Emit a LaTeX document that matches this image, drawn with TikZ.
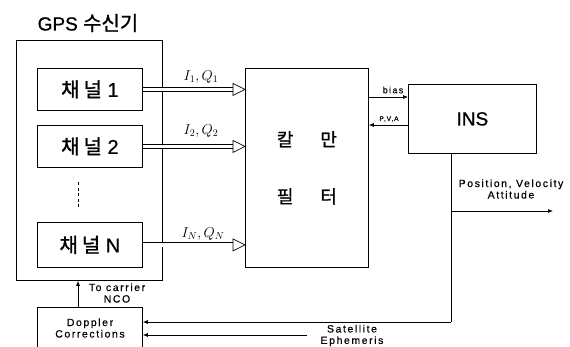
\documentclass[tikz,border=0pt]{standalone}
\usepackage{fontspec}
\setmainfont{Liberation Sans}
\newfontfamily\kr[FakeBold=1]{Noto Sans CJK KR}
\newfontfamily\krsp[LetterSpace=20,FakeBold=1.2]{Noto Sans CJK KR}
\newfontfamily\bigsans[FakeBold=0.8]{Liberation Sans}
\newfontfamily\lab[LetterSpace=15,FakeBold=0.5]{Liberation Sans}
\usetikzlibrary{arrows.meta,calc}
\begin{document}
\begin{tikzpicture}[x=1pt,y=-1pt,
  box/.style={draw, line width=0.8pt, inner sep=0pt, anchor=north west},
  ln/.style={line width=0.7pt},
  tip/.style={-{Latex[length=5pt,width=4pt]}},
  chbox/.style={box, minimum width=105pt, font=\bigsans\fontsize{20}{24}\selectfont},
  small/.style={font=\lab\fontsize{10.5}{11.5}\selectfont, align=center, inner sep=0pt},
  lbl/.style={font=\fontsize{14}{16}\selectfont, inner sep=0pt},
]
\useasboundingbox (0,0) rectangle (570,346);
% GPS receiver
\node[box, minimum width=146pt, minimum height=240pt] (gps) at (16,40) {};
\node[font=\bigsans\fontsize{19}{22}\selectfont] (title) at (88,23) {GPS {\kr\fontsize{20}{22}\selectfont 수신기}};
\node[chbox, minimum height=42pt] (ch1) at (37,68) {{\krsp 채널} 1};
\node[chbox, minimum height=42pt] (ch2) at (37,125) {{\krsp 채널} 2};
\node[chbox, minimum height=45pt] (chN) at (37,222) {{\krsp 채널} N};
\draw[ln, dash pattern=on 3pt off 2.5pt] (78,182) -- (78,208);
% Kalman filter
\node[box, minimum width=123pt, minimum height=199pt] (kf) at (245,68) {};
\node[align=center, font=\kr\fontsize{18}{57}\selectfont] (kft) at (kf.center) {칼\hspace{27pt}만\\필\hspace{27pt}터};
% INS
\node[box, minimum width=128pt, minimum height=69pt, font=\bigsans\fontsize{19}{22}\selectfont] (ins) at (408,84) {INS};
% Doppler
\node[box, minimum width=105pt, minimum height=48pt] (dop) at (37,307) {};
\node[small] (doptext) at (90,328) {Doppler\\Corrections};
% hollow arrows
\foreach \c in {ch1,ch2,chN} {
  \coordinate (\c s) at (\c.east);
  \coordinate (\c e) at (kf.west |- \c.east);
  \draw[ln, double distance=3.5pt, shorten >=11pt] (\c s) -- (\c e);
  \draw[ln, fill=white, line join=miter] ($(\c e)+(-12,-6)$) -- (\c e) -- ($(\c e)+(-12,6)$) -- cycle;
}
\node[lbl] (l1) at (201,77) {$I_1, Q_1$};
\node[lbl] (l2) at (201,131) {$I_2, Q_2$};
\node[lbl] (lN) at (203,234) {$I_N, Q_N$};
% bias and PVA
\draw[ln, tip] (kf.east |- 0,97) -- (ins.west |- 0,97);
\node[font=\lab\fontsize{9}{10}\selectfont, inner sep=0pt] (bias) at (393,90) {bias};
\draw[ln, tip] (ins.west |- 0,125) -- (kf.east |- 0,125);
\node[font=\lab\fontsize{6.5}{7}\selectfont, inner sep=0pt] (pva) at (389,119) {P,V,A};
% INS outputs
\coordinate (c1) at (451,211);
\coordinate (c2) at (451,322);
\coordinate (pv) at (553,211);
\draw[ln] (ins.south -| c1) -- (c2);
\draw[ln, tip] (c2) -- (dop.east |- c2);
\draw[ln, tip] (c1) -- (pv);
\node[small] (pvt) at (511,189) {Position, Velocity\\Attitude};
% satellite ephemeris
\coordinate (sat) at (307,335);
\draw[ln, tip] (sat) -- (dop.east |- sat);
\node[small] (satt) at (352,335.5) {Satellite\\Ephemeris};
% to carrier NCO
\draw[ln, tip] (dop.north -| 78,0) -- (gps.south -| 78,0);
\node[small] (nco) at (117,293) {To carrier\\NCO};
\end{tikzpicture}
\end{document}
